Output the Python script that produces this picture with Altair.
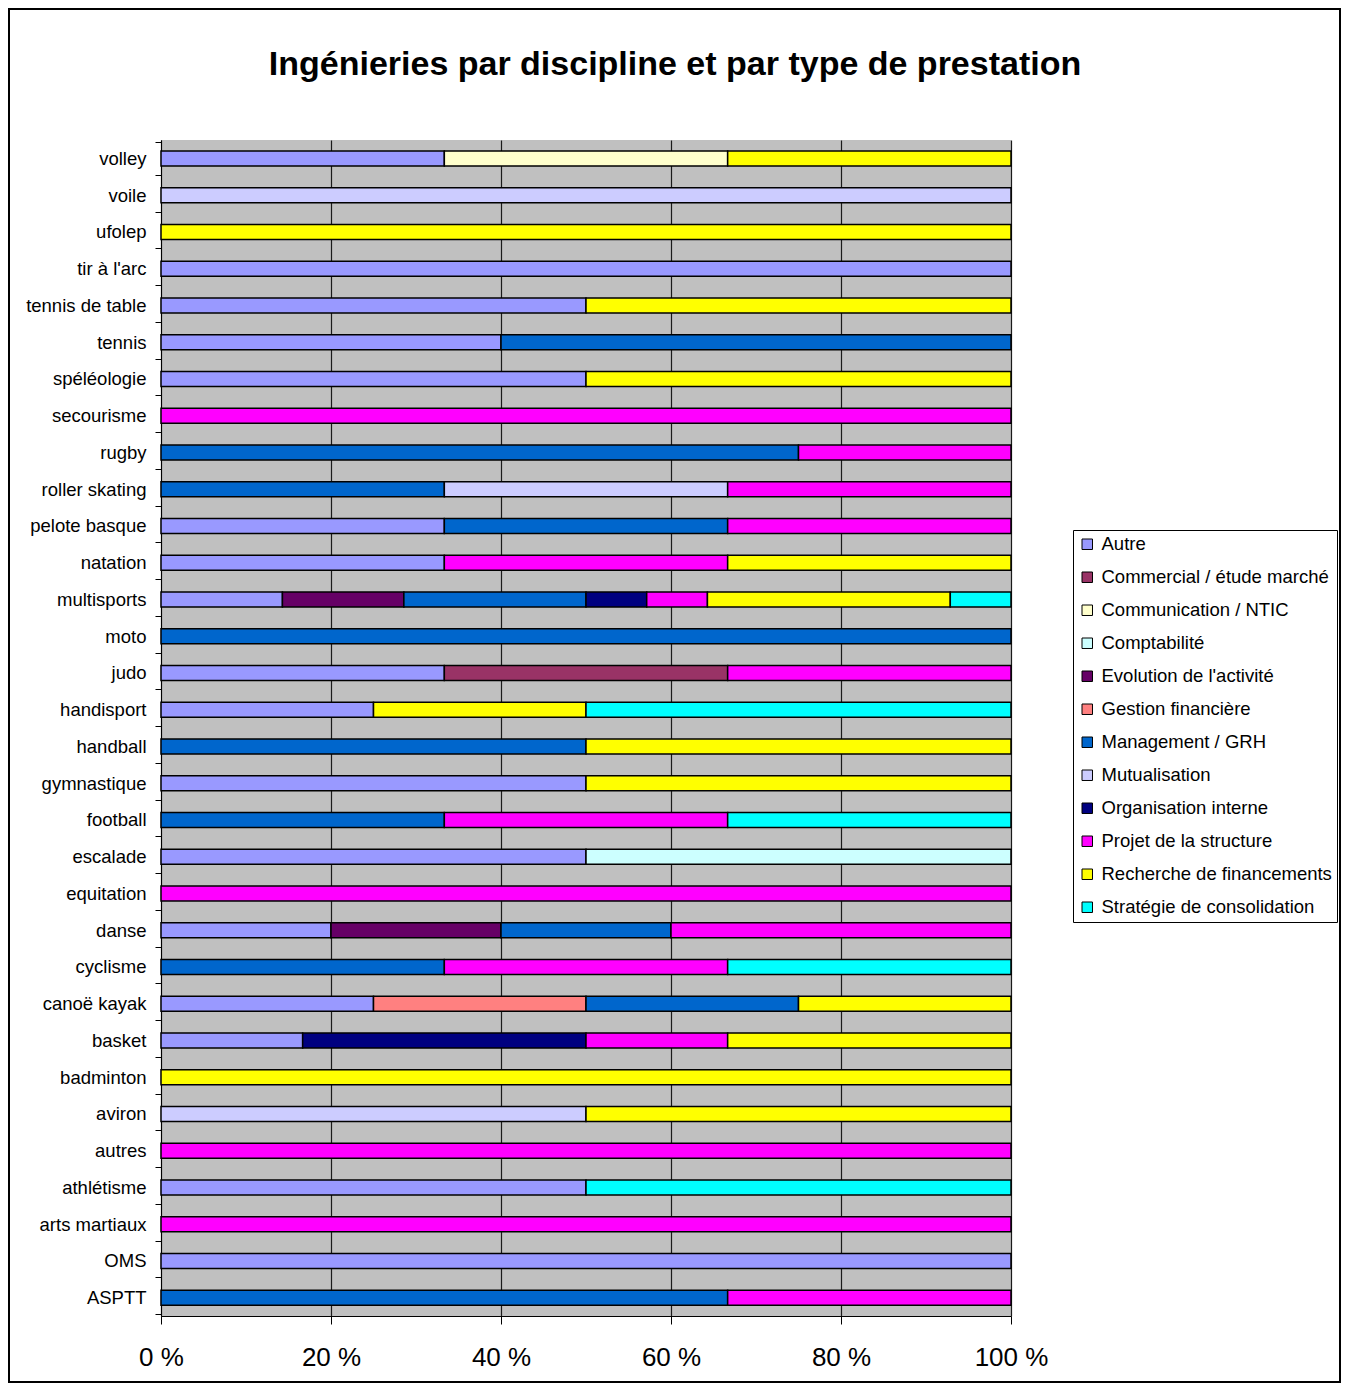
import altair as alt
import pandas as pd

categories = ["volley", "voile", "ufolep", "tir à l'arc", "tennis de table", "tennis",
              "spéléologie", "secourisme", "rugby", "roller skating", "pelote basque",
              "natation", "multisports", "moto", "judo", "handisport", "handball",
              "gymnastique", "football", "escalade", "equitation", "danse", "cyclisme",
              "canoë kayak", "basket", "badminton", "aviron", "autres", "athlétisme",
              "arts martiaux", "OMS", "ASPTT"]

types = ["Autre", "Commercial / étude marché", "Communication / NTIC", "Comptabilité",
         "Evolution de l'activité", "Gestion financière", "Management / GRH",
         "Mutualisation", "Organisation interne", "Projet de la structure",
         "Recherche de financements", "Stratégie de consolidation"]

colors = ["#9999FF", "#993366", "#FFFFCC", "#CCFFFF", "#660066", "#FF8080",
          "#0066CC", "#CCCCFF", "#000080", "#FF00FF", "#FFFF00", "#00FFFF"]

#            vo vi uf ti td te sp se ru ro pe na mu mo ju hs hb gy fo es eq da cy ca ba bd av au at am OM AS
autre =      [1, 0, 0, 1, 1, 2, 1, 0, 0, 0, 1, 1, 2, 0, 1, 1, 0, 1, 0, 1, 0, 1, 0, 1, 1, 0, 0, 0, 1, 0, 1, 0]
commercial = [0, 0, 0, 0, 0, 0, 0, 0, 0, 0, 0, 0, 0, 0, 1, 0, 0, 0, 0, 0, 0, 0, 0, 0, 0, 0, 0, 0, 0, 0, 0, 0]
communic =   [1, 0, 0, 0, 0, 0, 0, 0, 0, 0, 0, 0, 0, 0, 0, 0, 0, 0, 0, 0, 0, 0, 0, 0, 0, 0, 0, 0, 0, 0, 0, 0]
compta =     [0, 0, 0, 0, 0, 0, 0, 0, 0, 0, 0, 0, 0, 0, 0, 0, 0, 0, 0, 1, 0, 0, 0, 0, 0, 0, 0, 0, 0, 0, 0, 0]
evolution =  [0, 0, 0, 0, 0, 0, 0, 0, 0, 0, 0, 0, 2, 0, 0, 0, 0, 0, 0, 0, 0, 1, 0, 0, 0, 0, 0, 0, 0, 0, 0, 0]
gestion =    [0, 0, 0, 0, 0, 0, 0, 0, 0, 0, 0, 0, 0, 0, 0, 0, 0, 0, 0, 0, 0, 0, 0, 1, 0, 0, 0, 0, 0, 0, 0, 0]
management = [0, 0, 0, 0, 0, 3, 0, 0, 3, 1, 1, 0, 3, 1, 0, 0, 1, 0, 1, 0, 0, 1, 1, 1, 0, 0, 0, 0, 0, 0, 0, 2]
mutual =     [0, 1, 0, 0, 0, 0, 0, 0, 0, 1, 0, 0, 0, 0, 0, 0, 0, 0, 0, 0, 0, 0, 0, 0, 0, 0, 1, 0, 0, 0, 0, 0]
organis =    [0, 0, 0, 0, 0, 0, 0, 0, 0, 0, 0, 0, 1, 0, 0, 0, 0, 0, 0, 0, 0, 0, 0, 0, 2, 0, 0, 0, 0, 0, 0, 0]
projet =     [0, 0, 0, 0, 0, 0, 0, 1, 1, 1, 1, 1, 1, 0, 1, 0, 0, 0, 1, 0, 1, 2, 1, 0, 1, 0, 0, 1, 0, 1, 0, 1]
recherche =  [1, 0, 1, 0, 1, 0, 1, 0, 0, 0, 0, 1, 4, 0, 0, 1, 1, 1, 0, 0, 0, 0, 0, 1, 2, 1, 1, 0, 0, 0, 0, 0]
strategie =  [0, 0, 0, 0, 0, 0, 0, 0, 0, 0, 0, 0, 1, 0, 0, 2, 0, 0, 1, 0, 0, 0, 1, 0, 0, 0, 0, 0, 1, 0, 0, 0]

series = [autre, commercial, communic, compta, evolution, gestion, management,
          mutual, organis, projet, recherche, strategie]

rows = []
for ti, (t, vals) in enumerate(zip(types, series)):
    for c, v in zip(categories, vals):
        if v > 0:
            rows.append({"discipline": c, "type": t, "n": v, "ordre": ti})
df = pd.DataFrame(rows)

FONT = "Liberation Sans"

bars = alt.Chart(df).mark_bar(size=15, stroke="black", strokeWidth=1.5).encode(
    y=alt.Y("discipline:N", sort=categories,
            axis=alt.Axis(title=None, tickBand="extent", tickSize=6, tickColor="black",
                          domainColor="black", labelFontSize=18.5, labelFont=FONT,
                          labelColor="black", labelPadding=9, labelLimit=300)),
    x=alt.X("n:Q", stack="normalize", scale=alt.Scale(domain=[0, 1], nice=False),
            axis=alt.Axis(title=None, values=[0, 0.2, 0.4, 0.6, 0.8, 1.0],
                          labelExpr="round(datum.value*100) + ' %'",
                          grid=True, gridColor="#1a1a1a", gridWidth=1.2,
                          tickSize=8, tickColor="black", domainColor="black",
                          labelFontSize=26, labelFont=FONT, labelColor="black",
                          labelPadding=20, labelFlush=False)),
    color=alt.Color("type:N", scale=alt.Scale(domain=types, range=colors),
                    legend=alt.Legend(title=None, orient="none", legendX=912, legendY=390,
                                      symbolType="square", symbolSize=110,
                                      symbolStrokeColor="black", symbolStrokeWidth=1,
                                      labelFontSize=18.5, labelFont=FONT, labelColor="black",
                                      labelLimit=400, rowPadding=14, padding=5,
                                      strokeColor="black", fillColor="white",
                                      labelOffset=5)),
    order=alt.Order("ordre:Q"),
)

frame = alt.Chart(pd.DataFrame({"a": [0]})).mark_rect(
    fillOpacity=0, stroke="black", strokeWidth=2
).encode(x=alt.value(-152), x2=alt.value(1179), y=alt.value(-131), y2=alt.value(1242))

chart = alt.layer(bars, frame).properties(
    width=850, height=1176,
    autosize=alt.AutoSizeParams(type="none"),
    padding={"left": 153, "top": 132, "right": 330, "bottom": 67},
    title=alt.TitleParams("Ingénieries par discipline et par type de prestation",
                          fontSize=34, fontWeight="bold", font=FONT, color="black",
                          offset=-74, dx=89, anchor="middle"),
).configure_view(fill="#C0C0C0", stroke=None)

chart.save("out.html", embed_options={"renderer": "svg", "actions": False})
